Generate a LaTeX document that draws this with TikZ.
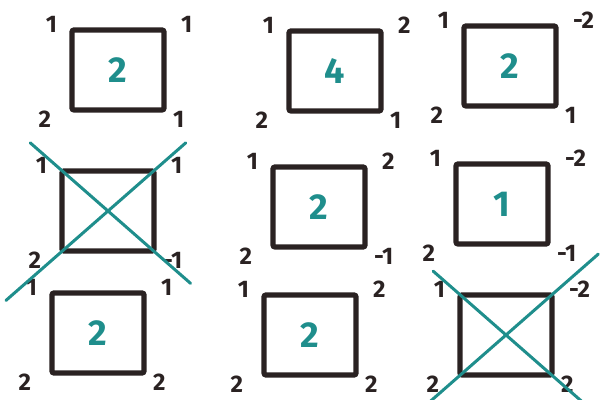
\documentclass[tikz,border=0pt]{standalone}
\usepackage{fontspec}
\setmainfont{Fira Sans}
\usetikzlibrary{positioning, calc}
\definecolor{cink}{HTML}{2A2222}
\definecolor{cteal}{HTML}{1F8E8C}
\tikzset{
  every picture/.style={font=\bfseries},
  cell/.style={draw=cink, line width=2.6pt, rounded corners=1pt, minimum width=46pt, minimum height=40pt, inner sep=0pt},
  num/.style={text=cink, font=\bfseries\fontsize{12}{12}\selectfont, inner sep=1pt},
  mid/.style={text=cteal, font=\bfseries\fontsize{18}{18}\selectfont},
  cross/.style={draw=cteal, line width=1.5pt, line cap=round},
}

\begin{document}
\begin{tikzpicture}[x=0.5pt, y=-0.5pt]
  \useasboundingbox (0,0) rectangle (605,400);
  % the nine cells: name / centre / corner values (tl, tr, bl, br) / value inside
  \foreach \nm/\px/\py/\tl/\tr/\bl/\br/\val in {
      a/118/70/1/1/2/1/2, b/335/71/1/2/2/1/4, c/510/66/1/-2/2/1/2,
      d/108/211/1/1/2/-1/{}, e/319/207/1/2/2/-1/2, f/502/204/1/-2/2/-1/1,
      g/98/333/1/1/2/2/2, h/310/335/1/2/2/2/2, i/506/335/1/-2/2/2/{}} {
    \node[cell] (\nm) at (\px,\py) {};
    \node[mid] (\nm-c) at (\nm) {\val};
    \node[num, above left=-4pt and 5pt of \nm.north west] (\nm-tl) {\tl};
    \node[num, above right=-4pt and 6pt of \nm.north east] (\nm-tr) {\tr};
    \node[num, below left=-2pt and 8pt of \nm.south west] (\nm-bl) {\bl};
    \node[num, below right=-2pt and 2pt of \nm.south east] (\nm-br) {\br};
  }
  % struck-out cells
  \foreach \nm/\a/\b/\c/\d in {d/.3/.35/.55/.3, i/.25/.5/.6/.45} {
    \draw[cross] ($(\nm.north west)!-\a!(\nm.south east)$) -- ($(\nm.north west)!1+\b!(\nm.south east)$);
    \draw[cross] ($(\nm.south west)!-\c!(\nm.north east)$) -- ($(\nm.south west)!1+\d!(\nm.north east)$);
  }
\end{tikzpicture}
\end{document}
